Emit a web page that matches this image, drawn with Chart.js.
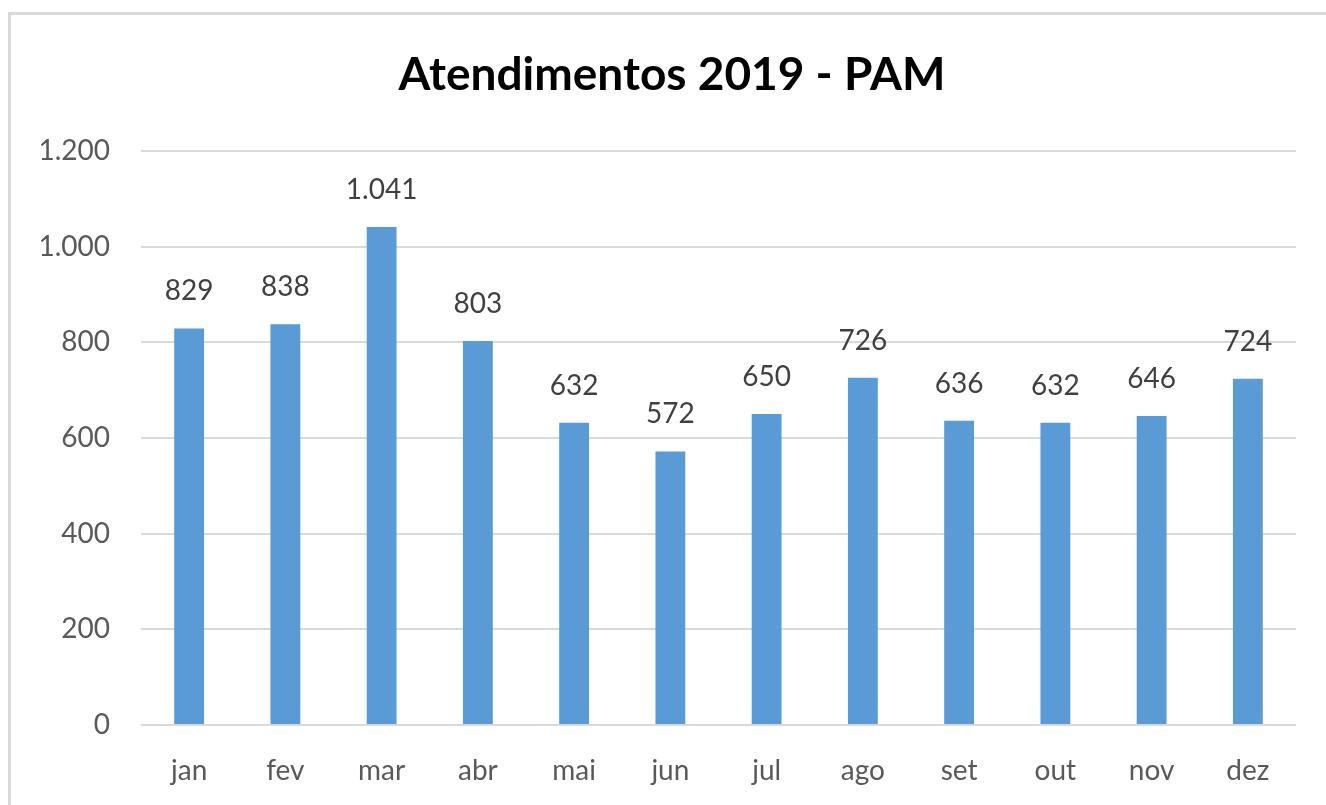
<!DOCTYPE html>
<html>
<head>
<meta charset="utf-8">
<script src="https://cdn.jsdelivr.net/npm/chart.js@4/dist/chart.umd.min.js"></script>
<style>
    html, body { margin: 0; padding: 0; background: #fff; overflow: hidden; }
    #frame {
        position: absolute;
        left: 8px;
        top: 12px;
        width: 1340px;
        height: 820px;
        border: 3px solid #d9d9d9;
    }
    #chart { display: block; }
</style>
</head>
<body>
<div id="frame"><canvas id="chart" width="1322" height="800"></canvas></div>
<script>
// data
const months = ['jan', 'fev', 'mar', 'abr', 'mai', 'jun', 'jul', 'ago', 'set', 'out', 'nov', 'dez'];
const atendimentos = [829, 838, 1041, 803, 632, 572, 650, 726, 636, 632, 646, 724];
const chartTitle = 'Atendimentos 2019 - PAM';

const fmt = v => Number(v).toLocaleString('pt-BR');

// Excel-like value labels above each bar
const valueLabels = {
    id: 'valueLabels',
    afterDatasetsDraw(chart) {
        const ctx = chart.ctx;
        const meta = chart.getDatasetMeta(0);
        ctx.save();
        ctx.font = "28px Lato, sans-serif";
        ctx.fillStyle = '#404040';
        ctx.textAlign = 'center';
        ctx.textBaseline = 'middle';
        meta.data.forEach((bar, i) => {
            ctx.fillText(fmt(atendimentos[i]), bar.x, bar.y - 37);
        });
        ctx.restore();
    }
};

// title drawn by hand so the plot area can be placed exactly
const titleText = {
    id: 'titleText',
    afterDraw(chart) {
        const ctx = chart.ctx;
        ctx.save();
        ctx.font = "bold 46px Lato, sans-serif";
        ctx.fillStyle = '#000';
        ctx.textAlign = 'center';
        ctx.textBaseline = 'middle';
        ctx.fillText(chartTitle, 661, 60);
        ctx.restore();
    }
};

new Chart(document.getElementById('chart').getContext('2d'), {
    type: 'bar',
    data: {
        labels: months,
        datasets: [{
            data: atendimentos,
            backgroundColor: '#5b9bd5',
            borderWidth: 0,
            barPercentage: 0.31,
            categoryPercentage: 1
        }]
    },
    options: {
        responsive: false,
        animation: false,
        layout: { padding: { top: 136, right: 37, bottom: 0, left: 0 } },
        plugins: {
            legend: { display: false },
            title: { display: false },
            tooltip: { enabled: false }
        },
        scales: {
            y: {
                min: 0,
                max: 1200,
                ticks: {
                    stepSize: 200,
                    padding: 31,
                    color: '#595959',
                    font: { family: 'Lato', size: 28 },
                    callback: v => fmt(v)
                },
                grid: { color: '#d9d9d9', lineWidth: 2, drawTicks: false },
                border: { display: false },
                afterFit: s => { s.width = 130; }
            },
            x: {
                ticks: {
                    padding: 29,
                    color: '#595959',
                    font: { family: 'Lato', size: 28 }
                },
                grid: { display: false, drawTicks: false },
                border: { display: false },
                afterFit: s => { s.height = 90; }
            }
        }
    },
    plugins: [valueLabels, titleText]
});
</script>
</body>
</html>
